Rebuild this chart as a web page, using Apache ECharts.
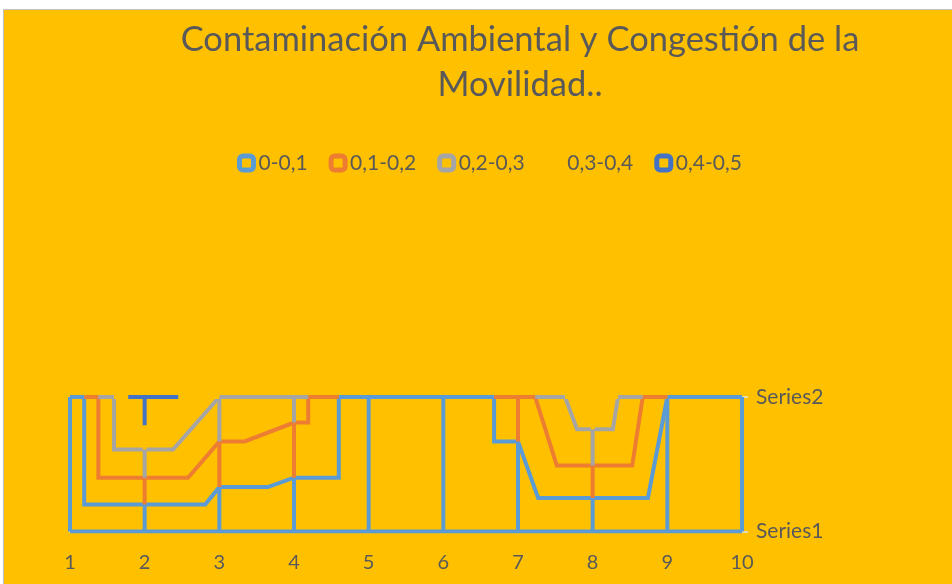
<!DOCTYPE html>
<html>
<head>
<meta charset="utf-8">
<script src="https://cdn.jsdelivr.net/npm/echarts@6/dist/echarts.min.js"></script>
<style>
  html, body { margin: 0; padding: 0; background: #fff; }
  #chart { width: 952px; height: 584px; }
</style>
</head>
<body>
<div id="chart"></div>
<script>
// x ticks (categories) and the two rows of the surface
const categories = [1, 2, 3, 4, 5, 6, 7, 8, 9, 10]
const rowNames = ['Series1', 'Series2']
const bandNames = ['0-0,1', '0,1-0,2', '0,2-0,3', '0,3-0,4', '0,4-0,5']

// wireframe contour lines of each band, points are [category, row] (0 = Series1, 1 = Series2)
const band01 = [
  [[1, 0], [10, 0]],
  [[1, 0], [1, 1]],
  [[10, 0], [10, 1]],
  [[1, 1], [1.19, 1]], [[4.6, 1], [6.68, 1]], [[9, 1], [10, 1]],
  [[2, 0], [2, 0.2]], [[3, 0], [3, 0.33]], [[4, 0], [4, 0.4]],
  [[5, 0], [5, 1]], [[6, 0], [6, 1]], [[7, 0], [7, 0.67]],
  [[8, 0], [8, 0.25]], [[9, 0], [9, 1]],
  [[1.19, 1], [1.19, 0.2], [2.81, 0.2], [3, 0.33], [3.65, 0.33], [4, 0.4], [4.6, 0.4], [4.6, 1]],
  [[6.68, 1], [6.68, 0.67], [7, 0.67], [7.27, 0.25], [8.74, 0.25], [9, 1]]
]
const band12 = [
  [[1.19, 1], [1.38, 1]], [[4.19, 1], [4.6, 1]], [[6.68, 1], [7.23, 1]], [[8.67, 1], [9, 1]],
  [[2, 0.2], [2, 0.4]], [[3, 0.33], [3, 0.67]], [[4, 0.4], [4, 0.81]],
  [[7, 0.67], [7, 1]], [[8, 0.25], [8, 0.49]],
  [[1.38, 1], [1.38, 0.4], [2.58, 0.4], [3, 0.67], [3.34, 0.67], [4, 0.81], [4.19, 0.81], [4.19, 1]],
  [[7.23, 1], [7.52, 0.49], [8.53, 0.49], [8.67, 1]]
]
const band23 = [
  [[1.38, 1], [1.59, 1]], [[3, 1], [4.19, 1]], [[7.23, 1], [7.63, 1]], [[8.34, 1], [8.67, 1]],
  [[2, 0.4], [2, 0.61]], [[3, 0.67], [3, 1]], [[4, 0.81], [4, 1]], [[8, 0.49], [8, 0.76]],
  [[1.59, 1], [1.59, 0.61], [2.38, 0.61], [3, 1]],
  [[7.63, 1], [7.79, 0.76], [8.27, 0.76], [8.34, 1]]
]
const band34 = [
  [[1.59, 1], [1.78, 1]], [[2.45, 1], [3, 1]], [[7.63, 1], [8.34, 1]],
  [[2, 0.61], [2, 0.79]], [[8, 0.76], [8, 1]],
  [[1.78, 1], [1.78, 0.79], [2, 0.79], [2.45, 1]]
]
const band45 = [
  [[1.78, 1], [2.45, 1]],
  [[2, 0.79], [2, 1]]
]

const bandLines = [band01, band12, band23, band34, band45]
const colors = ['#5B9BD5', '#ED7D31', '#A5A5A5', '#FFC000', '#4472C4']
const textColor = '#595959'
const font = 'Lato'

const chart = echarts.init(document.getElementById('chart'))

const series = []
bandLines.forEach((lines, i) => {
  lines.forEach(pts => {
    series.push({
      type: 'line',
      name: bandNames[i],
      data: pts,
      symbol: 'none',
      silent: true,
      z: 2 + i,
      lineStyle: { color: colors[i], width: 4, join: 'miter' },
      itemStyle: { color: colors[i] }
    })
  })
})

chart.setOption({
  animation: false,
  backgroundColor: 'transparent',
  graphic: [{
    type: 'rect',
    z: -10,
    silent: true,
    shape: { x: 3.5, y: 9.5, width: 960, height: 600 },
    style: { fill: '#FFC000', stroke: '#BFBFBF', lineWidth: 1 }
  }],
  title: {
    text: 'Contaminación Ambiental y Congestión de la\nMovilidad..',
    left: 520,
    top: 17,
    padding: 0,
    textAlign: 'center',
    textStyle: {
      color: textColor,
      fontFamily: font,
      fontWeight: 'normal',
      fontSize: 34.5,
      lineHeight: 45
    }
  },
  legend: {
    left: 237,
    top: 151,
    padding: 0,
    icon: 'roundRect',
    itemWidth: 14,
    itemHeight: 14,
    itemGap: 21,
    textStyle: { color: textColor, fontFamily: font, fontSize: 21, lineHeight: 24 },
    data: bandNames.map((n, i) => ({
      name: n,
      itemStyle: { color: '#FFC000', borderColor: colors[i], borderWidth: 5 }
    }))
  },
  grid: { left: 70, right: 210, top: 397, bottom: 52.5 },
  xAxis: [{
    type: 'value',
    min: categories[0],
    max: categories[categories.length - 1],
    interval: 1,
    axisLine: { show: false },
    axisTick: { show: false },
    splitLine: { show: false },
    axisLabel: { color: textColor, fontFamily: font, fontSize: 20, margin: 21 }
  }, {
    type: 'value',
    position: 'top',
    min: categories[0],
    max: categories[categories.length - 1],
    axisLine: { show: true, lineStyle: { color: '#E4E4E4', width: 1.5 } },
    axisTick: { show: false },
    axisLabel: { show: false },
    splitLine: { show: false }
  }],
  yAxis: [{
    type: 'value',
    position: 'right',
    min: 0,
    max: 1,
    interval: 1,
    axisLine: { show: false },
    axisTick: { show: true, length: 6, lineStyle: { color: '#E4E4E4', width: 1.5 } },
    splitLine: { show: false },
    axisLabel: {
      color: textColor,
      fontFamily: font,
      fontSize: 21,
      margin: 14,
      formatter: v => rowNames[v]
    }
  }, {
    type: 'value',
    position: 'left',
    min: 0,
    max: 1,
    axisLine: { show: true, lineStyle: { color: '#E4E4E4', width: 1.5 } },
    axisTick: { show: false },
    axisLabel: { show: false },
    splitLine: { show: false }
  }],
  series: series
})
</script>
</body>
</html>
